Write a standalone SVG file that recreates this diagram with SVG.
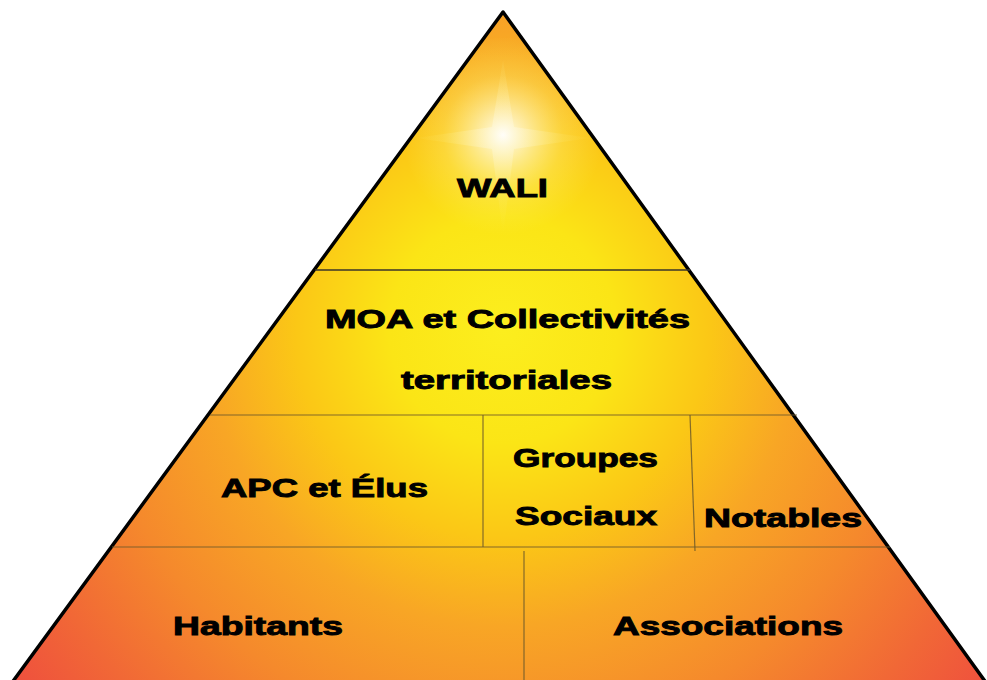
<svg xmlns="http://www.w3.org/2000/svg" width="987" height="680" viewBox="0 0 987 680">
  <defs>
    <radialGradient id="pyrFill" gradientUnits="userSpaceOnUse" cx="503" cy="330" r="630">
      <stop offset="0" stop-color="#fcee1e"/>
      <stop offset="0.18" stop-color="#fbe516"/>
      <stop offset="0.33" stop-color="#fbc716"/>
      <stop offset="0.47" stop-color="#f8a625"/>
      <stop offset="0.65" stop-color="#f5892c"/>
      <stop offset="0.82" stop-color="#f16836"/>
      <stop offset="1" stop-color="#ee4840"/>
    </radialGradient>
    <radialGradient id="glow" gradientUnits="userSpaceOnUse" cx="503" cy="135" r="100">
      <stop offset="0" stop-color="#ffffff" stop-opacity="0.95"/>
      <stop offset="0.25" stop-color="#fffbe0" stop-opacity="0.65"/>
      <stop offset="0.6" stop-color="#fff5a0" stop-opacity="0.25"/>
      <stop offset="1" stop-color="#fff176" stop-opacity="0"/>
    </radialGradient>
    <clipPath id="pyrClip">
      <polygon points="503,12 987,684 11,684"/>
    </clipPath>
    <style>
      .lbl { font-family: "Liberation Sans", Arial, sans-serif; font-weight: bold; font-size: 26px; fill: #000; stroke: #000; stroke-width: 0.9; text-anchor: start; }
      .divMain { stroke: #3a3428; stroke-width: 1.6; fill: none; }
      .div { stroke: #6e5a2a; stroke-width: 1.2; fill: none; stroke-opacity: 0.85; }
    </style>
  </defs>

  <rect width="987" height="680" fill="#ffffff"/>

  <g id="pyramid">
    <polygon points="503,12 987,684 11,684" fill="url(#pyrFill)"/>
    <g clip-path="url(#pyrClip)">
      <circle cx="503" cy="138" r="100" fill="url(#glow)"/>
      <polygon points="503,60 514,127 590,138 514,149 503,235 492,149 416,138 492,127" fill="url(#glow)" opacity="0.45"/>
    </g>
    <polygon points="503,12 987,684 11,684" fill="none" stroke="#000" stroke-width="3.5" stroke-linejoin="round"/>
  </g>

  <g id="connectors">
    <line class="divMain" x1="315" y1="270" x2="690" y2="270"/>
    <line class="div" x1="210" y1="415" x2="797" y2="415"/>
    <line class="div" x1="112" y1="547" x2="890" y2="547"/>
    <line class="div" x1="483" y1="415" x2="483" y2="547"/>
    <line class="div" x1="690" y1="415" x2="695" y2="551"/>
    <line class="div" x1="524" y1="551" x2="524" y2="680"/>
  </g>

  <g id="wali">
    <text class="lbl" x="457" y="197" textLength="91" lengthAdjust="spacingAndGlyphs">WALI</text>
  </g>
  <g id="moa">
    <text class="lbl" x="325" y="328" textLength="365" lengthAdjust="spacingAndGlyphs">MOA et Collectivités</text>
    <text class="lbl" x="401" y="389" textLength="211" lengthAdjust="spacingAndGlyphs">territoriales</text>
  </g>
  <g id="apc">
    <text class="lbl" x="221" y="497" textLength="207" lengthAdjust="spacingAndGlyphs">APC et Élus</text>
  </g>
  <g id="groupes">
    <text class="lbl" x="513" y="467" textLength="145" lengthAdjust="spacingAndGlyphs">Groupes</text>
    <text class="lbl" x="515" y="525" textLength="142" lengthAdjust="spacingAndGlyphs">Sociaux</text>
  </g>
  <g id="notables">
    <text class="lbl" x="704" y="527" textLength="158" lengthAdjust="spacingAndGlyphs">Notables</text>
  </g>
  <g id="habitants">
    <text class="lbl" x="173" y="635" textLength="170" lengthAdjust="spacingAndGlyphs">Habitants</text>
  </g>
  <g id="associations">
    <text class="lbl" x="613" y="635" textLength="230" lengthAdjust="spacingAndGlyphs">Associations</text>
  </g>
</svg>
